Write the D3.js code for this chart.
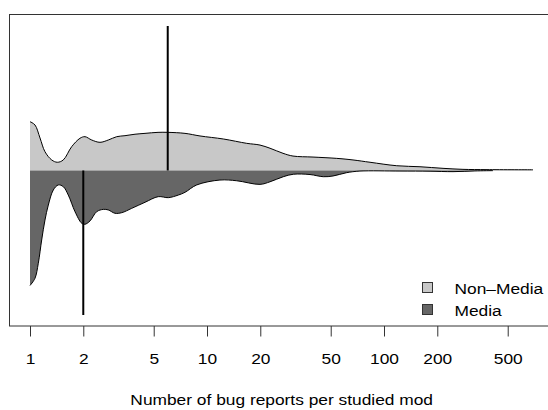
<!DOCTYPE html>
<html>
<head>
<meta charset="utf-8">
<script src="https://cdn.jsdelivr.net/npm/d3@7"></script>
<style>
  html, body { margin: 0; padding: 0; background: #fff; }
  svg { display: block; font-family: "Liberation Sans", Arial, sans-serif; }
</style>
</head>
<body>
<svg id="chart" width="548" height="410"></svg>
<script>
// ---- Data ----
const xTicks = [1, 2, 5, 10, 20, 50, 100, 200, 500];
const seriesNames = ["Non\u2013Media", "Media"];

const nonMediaX = [1.00, 1.067, 1.139, 1.215, 1.326, 1.427, 1.542, 1.72, 1.916, 2.045, 2.232, 2.486, 2.769, 3.089, 3.441, 3.92, 4.464, 5.288, 6.022, 7.511, 9.13, 12.37, 16.76, 19.93, 22.7, 26.88, 30.61, 39.72, 54.06, 66.82, 83.37, 118.0, 159.7, 215.5, 279.4, 381.9, 694.6];
const nonMediaDensity = [0.338, 0.315, 0.225, 0.130, 0.073, 0.057, 0.073, 0.165, 0.223, 0.234, 0.211, 0.195, 0.211, 0.234, 0.241, 0.251, 0.257, 0.264, 0.264, 0.257, 0.239, 0.218, 0.188, 0.176, 0.154, 0.119, 0.100, 0.093, 0.084, 0.073, 0.057, 0.033, 0.026, 0.015, 0.008, 0.006, 0.005];

const mediaX = [1.00, 1.067, 1.114, 1.164, 1.215, 1.269, 1.354, 1.445, 1.542, 1.646, 1.796, 1.959, 2.045, 2.183, 2.381, 2.595, 2.769, 3.021, 3.297, 3.754, 4.464, 5.308, 6.045, 6.884, 7.511, 8.745, 11.84, 14.72, 19.93, 22.7, 26.98, 30.73, 38.19, 45.39, 51.51, 61.55, 73.16, 123.1, 182.0, 245.4, 326.6, 412.9];
const mediaDensity = [0.796, 0.746, 0.642, 0.481, 0.343, 0.239, 0.135, 0.100, 0.112, 0.170, 0.285, 0.365, 0.372, 0.349, 0.285, 0.269, 0.273, 0.296, 0.292, 0.262, 0.220, 0.181, 0.188, 0.170, 0.151, 0.100, 0.066, 0.071, 0.096, 0.078, 0.043, 0.026, 0.028, 0.043, 0.038, 0.015, 0.004, 0.004, 0.005, 0.008, 0.003, 0.001];

const nonMediaMedian = 6;
const mediaMedian = 2;
const beanLineLength = 1;

const colors = ["#c8c8c8", "#666666"];

// ---- Layout ----
const svg = d3.select("#chart");
const box = { left: 9.5, top: 14.5, right: 560, bottom: 326 };
const TX = 1.12; // horizontal text stretch

const x = d3.scaleLog().domain([1, 1000]).range([30, 561]);
const y = d3.scaleLinear().domain([-1, 1]).range([315, 26]);

// Plot box
svg.append("rect")
  .attr("x", box.left).attr("y", box.top)
  .attr("width", box.right - box.left).attr("height", box.bottom - box.top)
  .attr("fill", "none").attr("stroke", "#333").attr("stroke-width", 1);

const nm = nonMediaX.map((v, i) => ({ x: v, d: nonMediaDensity[i] }));
const md = mediaX.map((v, i) => ({ x: v, d: -mediaDensity[i] }));

const curve = d3.curveCatmullRom.alpha(0.5);
const area = d3.area().x(p => x(p.x)).y0(y(0)).y1(p => y(p.d)).curve(curve);
const line = d3.line().x(p => x(p.x)).y(p => y(p.d)).curve(curve);

svg.append("path").attr("d", area(nm)).attr("fill", colors[0]);
svg.append("path").attr("d", area(md)).attr("fill", colors[1]);
svg.append("path").attr("d", line(nm)).attr("fill", "none").attr("stroke", "#000").attr("stroke-width", 1);
svg.append("path").attr("d", line(md)).attr("fill", "none").attr("stroke", "#000").attr("stroke-width", 1);

// Median bean lines
svg.append("line")
  .attr("x1", x(nonMediaMedian)).attr("x2", x(nonMediaMedian))
  .attr("y1", y(0)).attr("y2", y(beanLineLength))
  .attr("stroke", "#000").attr("stroke-width", 2);
svg.append("line")
  .attr("x1", x(mediaMedian)).attr("x2", x(mediaMedian))
  .attr("y1", y(0)).attr("y2", y(-beanLineLength))
  .attr("stroke", "#000").attr("stroke-width", 2);

// X axis
const axis = d3.axisBottom(x).tickValues(xTicks).tickFormat(d3.format("d")).tickSize(10.5).tickPadding(0);
const gAxis = svg.append("g").attr("transform", `translate(0,${box.bottom})`).call(axis);
gAxis.select(".domain").remove();
gAxis.selectAll(".tick line").attr("stroke", "#333");
gAxis.selectAll(".tick text").remove();
gAxis.selectAll(".tick").append("text")
  .attr("transform", `translate(0,${364 - box.bottom}) scale(${TX},1)`)
  .attr("text-anchor", "middle")
  .attr("fill", "#000")
  .style("font-size", "15.5px")
  .style("font-family", "'Liberation Sans', Arial, sans-serif")
  .text(d => d);

// Axis title
svg.append("text")
  .attr("transform", `translate(281.7,405) scale(${TX},1)`)
  .attr("text-anchor", "middle")
  .style("font-size", "15.5px")
  .text("Number of bug reports per studied mod");

// Legend
const legendY = [282.5, 304.5];
seriesNames.forEach((name, i) => {
  svg.append("rect")
    .attr("x", 422.5).attr("y", legendY[i])
    .attr("width", 10).attr("height", 10)
    .attr("fill", colors[i]).attr("stroke", "#333").attr("stroke-width", 1);
  svg.append("text")
    .attr("transform", `translate(454.5,${legendY[i] + 11.5}) scale(${TX},1)`)
    .style("font-size", "15.5px")
    .text(name);
});
</script>
</body>
</html>
